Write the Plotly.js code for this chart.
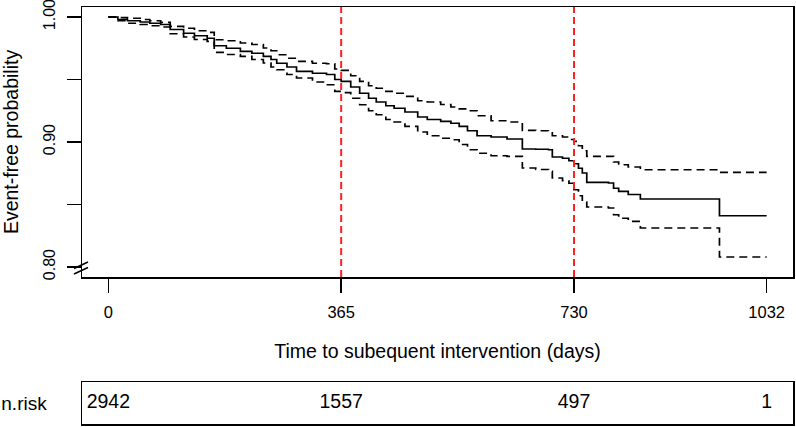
<!DOCTYPE html>
<html>
<head>
<meta charset="utf-8">
<script src="https://cdn.plot.ly/plotly-3.0.1.min.js"></script>
<style>
  html, body { margin: 0; padding: 0; background: #fff; }
  #km { width: 796px; height: 427px; }
</style>
</head>
<body>
<div id="km"></div>
<script>
/* Kaplan-Meier: event-free probability vs time to subsequent intervention.
   Values (steps drawn with shape 'hv'). */
var tDays = [0, 15, 30, 50, 65, 82, 97, 118, 135, 155, 166, 185, 207, 225, 243, 255, 264, 280, 295, 320,
  342, 355, 365, 380, 394, 408, 420, 435, 448, 465, 485, 500, 521, 537, 550, 563, 578, 600, 625, 649,
  670, 690, 696, 712, 722, 730, 737, 743, 750, 784, 792, 800, 815, 834, 958, 1032];
var survEst = [1.000, 0.998, 0.997, 0.996, 0.995, 0.994, 0.990, 0.987, 0.985, 0.983, 0.977, 0.975, 0.9725, 0.971, 0.9685, 0.966, 0.963, 0.960, 0.9565, 0.955,
  0.954, 0.950, 0.9485, 0.944, 0.939, 0.935, 0.932, 0.929, 0.927, 0.924, 0.920, 0.918, 0.9165, 0.915, 0.9125, 0.909, 0.905, 0.904, 0.9024, 0.8944,
  0.8942, 0.8938, 0.888, 0.887, 0.885, 0.8826, 0.879, 0.8752, 0.8677, 0.8672, 0.863, 0.8605, 0.858, 0.8544, 0.841, 0.841];
var survUpper = [1.000, 0.9995, 0.999, 0.998, 0.997, 0.9957, 0.9925, 0.991, 0.989, 0.9877, 0.9818, 0.981, 0.9792, 0.978, 0.9752, 0.973, 0.9698, 0.967, 0.9645, 0.963,
  0.9626, 0.9584, 0.9573, 0.953, 0.9485, 0.945, 0.943, 0.9405, 0.939, 0.9365, 0.933, 0.932, 0.930, 0.928, 0.9265, 0.925, 0.921, 0.917, 0.916, 0.9093,
  0.909, 0.9085, 0.905, 0.904, 0.902, 0.9005, 0.897, 0.893, 0.8885, 0.8885, 0.884, 0.8818, 0.880, 0.8778, 0.8757, 0.8757];
var survLower = [1.000, 0.997, 0.995, 0.994, 0.993, 0.992, 0.9866, 0.984, 0.982, 0.9805, 0.9717, 0.970, 0.9685, 0.966, 0.9632, 0.960, 0.9578, 0.954, 0.9512, 0.948,
  0.9458, 0.9405, 0.9395, 0.935, 0.9298, 0.925, 0.9218, 0.918, 0.916, 0.9125, 0.908, 0.905, 0.903, 0.9018, 0.898, 0.8938, 0.891, 0.889, 0.8885, 0.8792,
  0.878, 0.8765, 0.8712, 0.869, 0.867, 0.8618, 0.857, 0.852, 0.848, 0.8472, 0.8418, 0.839, 0.8365, 0.8312, 0.808, 0.808];

var riskTimes = [0, 365, 730, 1032];
var riskCounts = [2942, 1557, 497, 1];
var markDays = [365, 730];   // 1 and 2 years
var yTickVals = [0.80, 0.85, 0.90, 0.95, 1.00];
var yTickText = ['0.80', '', '0.90', '', '1.00'];

var FONT = 'Liberation Sans, Arial, Helvetica, sans-serif';
var X_RANGE = [-41.28, 1073.28];

function stepTrace(y, dash) {
  return {
    x: tDays, y: y, xaxis: 'x', yaxis: 'y', mode: 'lines',
    line: { color: '#000', width: 1.7, shape: 'hv', dash: dash },
    hoverinfo: 'skip'
  };
}

var traces = [
  stepTrace(survUpper, '8px,5px'),
  stepTrace(survLower, '8px,5px'),
  stepTrace(survEst, 'solid'),
  { // number at risk table
    x: riskTimes, y: riskTimes.map(function () { return 0; }),
    text: riskCounts.map(String), mode: 'text', textposition: 'middle center',
    textfont: { family: FONT, size: 19.5, color: '#000' },
    xaxis: 'x2', yaxis: 'y2', hoverinfo: 'skip'
  }
];

var shapes = markDays.map(function (d) {
  return {
    type: 'line', xref: 'x', yref: 'y domain', x0: d, x1: d, y0: 0, y1: 1,
    line: { color: '#f22', width: 2, dash: '7px,4px' }, layer: 'above'
  };
});
// axis break "//" near 0.80
[[0.3729, 0.3885], [0.3597, 0.3753]].forEach(function (p) {
  shapes.push({
    type: 'line', xref: 'paper', yref: 'paper',
    x0: -0.01125, x1: 0.00844, y0: p[0], y1: p[1],
    line: { color: '#000', width: 1.5 }
  });
});

var layout = {
  width: 796, height: 427,
  margin: { l: 82, r: 3, t: 7, b: 3 },
  paper_bgcolor: '#fff', plot_bgcolor: '#fff',
  showlegend: false,
  font: { family: FONT, size: 16, color: '#000' },
  xaxis: {
    domain: [0, 1], anchor: 'y', range: X_RANGE,
    tickvals: riskTimes, ticks: 'outside', ticklen: 14, tickwidth: 1.5, tickcolor: '#000',
    ticklabelstandoff: 6,
    showline: true, linecolor: '#000', linewidth: 1.5, mirror: true,
    showgrid: false, zeroline: false, fixedrange: true,
    tickfont: { size: 16.5 },
    title: { text: 'Time to subequent intervention (days)', font: { size: 19.5 }, standoff: 24 }
  },
  yaxis: {
    domain: [0.3525, 1], anchor: 'x', range: [0.792, 1.008],
    tickvals: yTickVals, ticktext: yTickText, tickangle: -90,
    ticklabeloverflow: 'allow', ticklabelstandoff: 5,
    ticks: 'outside', ticklen: 14, tickwidth: 1.5, tickcolor: '#000',
    showline: true, linecolor: '#000', linewidth: 1.5, mirror: true,
    showgrid: false, zeroline: false, fixedrange: true,
    tickfont: { size: 16 },
    title: { text: 'Event-free probability', font: { size: 19.5 }, standoff: 18 }
  },
  xaxis2: {
    domain: [0, 1], anchor: 'y2', range: X_RANGE,
    showticklabels: false, ticks: '',
    showline: true, linecolor: '#000', linewidth: 1.5, mirror: true,
    showgrid: false, zeroline: false, fixedrange: true
  },
  yaxis2: {
    domain: [0, 0.1007], anchor: 'x2', range: [-1, 1],
    tickvals: [0], ticktext: ['n.risk'], ticks: '', ticklabelstandoff: 30,
    tickfont: { size: 19 },
    showline: true, linecolor: '#000', linewidth: 1.5, mirror: true,
    showgrid: false, zeroline: false, fixedrange: true
  },
  shapes: shapes
};

Plotly.newPlot('km', traces, layout, { displayModeBar: false, staticPlot: true });
</script>
</body>
</html>
